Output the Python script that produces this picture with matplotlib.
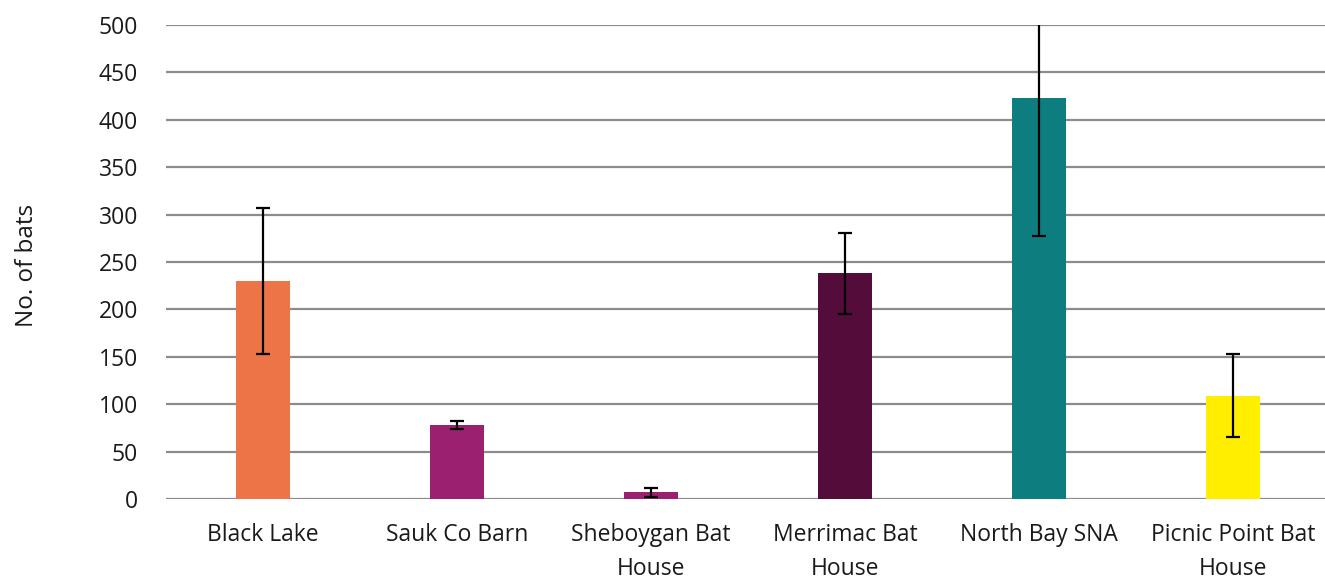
import matplotlib
matplotlib.use("Agg")
import matplotlib.pyplot as plt

# ---------------- DATA ----------------
sites = ["Black Lake", "Sauk Co Barn", "Sheboygan Bat\nHouse", "Merrimac Bat\nHouse",
         "North Bay SNA", "Picnic Point Bat\nHouse"]
bats = [230, 78, 7, 238, 423, 109]
errors = [77, 4, 5, 43, 146, 44]
colors = ["#ED7446", "#9B2170", "#9B2170", "#540C3A", "#0E7D80", "#FFEE00"]

plt.rcParams["font.family"] = ["Open Sans", "DejaVu Sans"]

fig = plt.figure(figsize=(13.25, 5.79), dpi=100)
ax = fig.add_axes([166 / 1325, 1 - 499 / 579, (1330 - 166) / 1325, (499 - 25) / 579])

x = range(len(sites))
ax.bar(x, bats, width=0.28, color=colors, zorder=2)
ax.errorbar(x, bats, yerr=errors, fmt="none", ecolor="black", elinewidth=1.6,
            capsize=5, capthick=1.6, zorder=3)

# ---------------- AXES ----------------
ax.set_xlim(-0.5, 5.5)
ax.set_ylim(0, 500)
ax.set_yticks(range(0, 501, 50))
ax.grid(axis="y", color="#8c8c8c", linewidth=1.6, zorder=1)
ax.set_axisbelow(True)
for s in ax.spines.values():
    s.set_visible(False)

ax.set_xticks(list(x))
ax.set_xticklabels(sites, fontsize=16.5, color="#1a1a1a", linespacing=1.6)
ax.tick_params(axis="x", length=0, pad=17)
ax.tick_params(axis="y", length=0, pad=20, labelsize=16.5, labelcolor="#1a1a1a")

fig.text(27 / 1325, 1 - 265 / 579, "No. of bats", rotation=90, fontsize=17.5,
         color="#1a1a1a", ha="center", va="center")

fig.savefig("out.png", dpi=100)
